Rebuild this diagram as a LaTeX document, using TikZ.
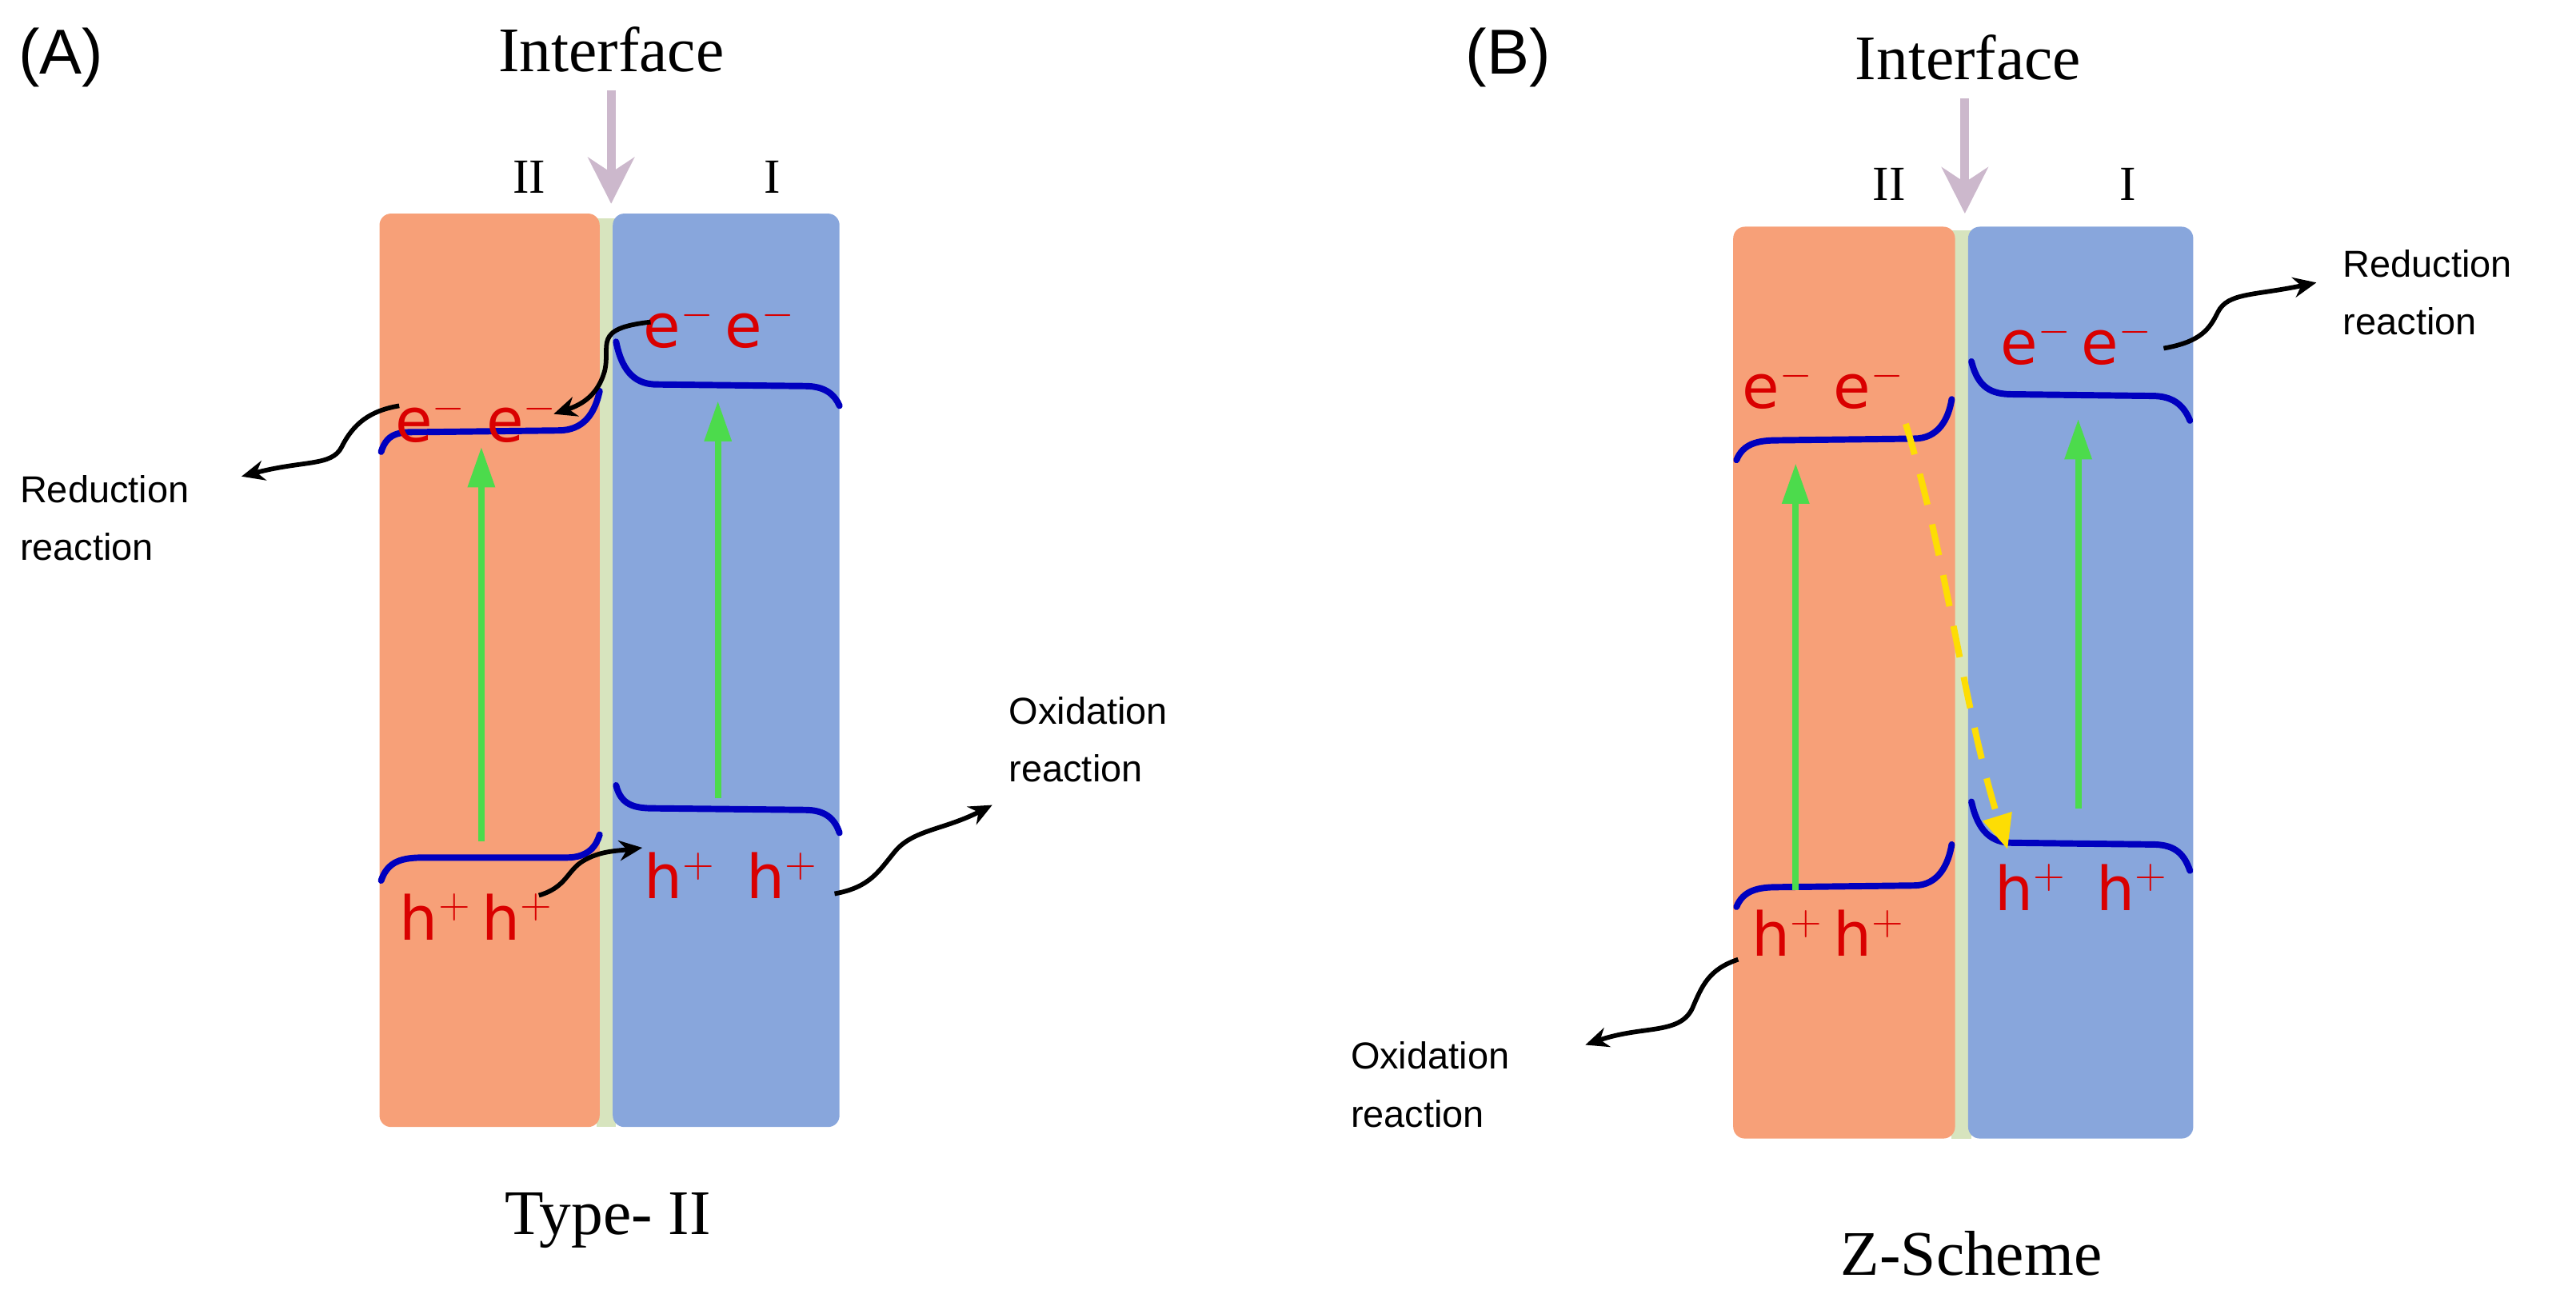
\documentclass[tikz,border=0pt]{standalone}
\usepackage{fontspec}
\setmainfont{Liberation Serif}
\newfontfamily\sansf{Liberation Sans}
\newfontfamily\chg{DejaVu Sans}
\usetikzlibrary{arrows.meta}
\begin{document}
\begin{tikzpicture}[x=0.02cm,y=-0.02cm,
  orange box/.style={fill=orange!55!red!45!white, draw=none, rounded corners=4pt},
  blue box/.style={fill=blue!45!cyan!40!gray!60, draw=none, rounded corners=4pt},
  strip/.style={fill=green!20!yellow!20!white,draw=none},
  band/.style={draw=blue!75!black, line width=2.2pt, line cap=round},
  chg/.style={text=red!85!black, font=\chg\fontsize{21}{24}\selectfont},
  ser/.style={font=\fontsize{22}{26}\selectfont},
  lab/.style={font=\sansf\fontsize{13}{20}\selectfont, align=left},
  gr/.style={draw=green!80!black!70!white, line width=2.2pt, -{Triangle[length=14pt,width=9pt]}},
  iarr/.style={draw=gray!60!violet!40, line width=3pt, -{Stealth[length=16pt,width=16pt]}},
  blk/.style={draw=black, line width=1.6pt, -{Stealth[length=8pt,width=7pt]}}]
\fill[white] (0,0) rectangle (1568,785);
\useasboundingbox (0,0) rectangle (1568,785);
\definecolor{org}{RGB}{247,160,120}
\definecolor{blu}{RGB}{136,166,220}
\definecolor{stp}{RGB}{215,228,190}
% ---------- Panel A ----------
\node[font=\sansf\fontsize{22}{26}\selectfont, anchor=west] (labA) at (5,35) {(A)};
\node[ser] (intA) at (372,30) {Interface};
\coordinate (ia1) at (372,55); \coordinate (ia2) at (372,124);
\draw[iarr] (ia1) -- (ia2);
\node[ser,font=\fontsize{17}{20}\selectfont] (IIa) at (322,108) {II};
\node[ser,font=\fontsize{17}{20}\selectfont] (Ia) at (470,108) {I};
\fill[stp] (363,133) rectangle (375,686);
\fill[org,rounded corners=4pt] (231,130) rectangle (365,686);
\fill[blu,rounded corners=4pt] (373,130) rectangle (511,686);
\draw[band] (232,275) .. controls (236,262) and (245,263) .. (258,263) -- (340,262) .. controls (355,262) and (362,252) .. (365,238);
\draw[band] (375,208) .. controls (379,228) and (388,234) .. (400,234) -- (490,235) .. controls (502,235) and (508,240) .. (511,247);
\draw[band] (232,536) .. controls (236,524) and (245,522) .. (258,522) -- (345,522) .. controls (358,522) and (363,515) .. (365,508);
\draw[band] (375,478) .. controls (378,490) and (386,492) .. (398,492) -- (490,493) .. controls (502,493) and (508,498) .. (511,507);
\node[chg] (eA1) at (290,255) {e$^{-}$\,\,e$^{-}$};
\node[chg] (eA2) at (438,198) {e$^{-}$\,e$^{-}$};
\node[chg] (hA1) at (290,558) {h$^{+}$\,h$^{+}$};
\node[chg] (hA2) at (445,533) {h$^{+}$\,\,\,h$^{+}$};
\coordinate (gA1s) at (293,512); \coordinate (gA1e) at (293,272);
\coordinate (gA2s) at (437,486); \coordinate (gA2e) at (437,244);
\draw[gr] (gA1s) -- (gA1e);
\draw[gr] (gA2s) -- (gA2e);
\coordinate (bA1s) at (396,196); \coordinate (bA1e) at (337,252);
\draw[blk] (bA1s) .. controls (360,200) and (372,210) .. (368,226) .. controls (364,240) and (355,246) .. (bA1e);
\coordinate (bA2s) at (243,247); \coordinate (bA2e) at (147,290);
\draw[blk] (bA2s) .. controls (225,250) and (215,258) .. (208,272) .. controls (202,284) and (185,280) .. (bA2e);
\node[lab, anchor=north west] (redA) at (6,283) {Reduction\\reaction};
\coordinate (bA3s) at (328,545); \coordinate (bA3e) at (391,516);
\draw[blk] (bA3s) .. controls (345,540) and (345,530) .. (355,524) .. controls (365,518) and (375,518) .. (bA3e);
\coordinate (bA4s) at (508,544); \coordinate (bA4e) at (604,490);
\draw[blk] (bA4s) .. controls (530,540) and (535,530) .. (545,518) .. controls (556,505) and (575,505) .. (bA4e);
\node[lab, anchor=north west] (oxA) at (608,418) {Oxidation\\reaction};
\node[ser] (typeA) at (370,743) {Type- II};
% ---------- Panel B ----------
\node[font=\sansf\fontsize{22}{26}\selectfont, anchor=west] (labB) at (886,35) {(B)};
\node[ser] (intB) at (1198,35) {Interface};
\coordinate (ib1) at (1196,60); \coordinate (ib2) at (1196,130);
\draw[iarr] (ib1) -- (ib2);
\node[ser,font=\fontsize{17}{20}\selectfont] (IIb) at (1150,112) {II};
\node[ser,font=\fontsize{17}{20}\selectfont] (Ib) at (1295,112) {I};
\fill[stp] (1188,140) rectangle (1200,693);
\fill[org,rounded corners=4pt] (1055,138) rectangle (1190,693);
\fill[blu,rounded corners=4pt] (1198,138) rectangle (1335,693);
\draw[band] (1057,280) .. controls (1061,270) and (1070,268) .. (1082,268) -- (1165,267) .. controls (1180,267) and (1186,255) .. (1188,243);
\draw[band] (1200,220) .. controls (1204,236) and (1212,240) .. (1225,240) -- (1310,241) .. controls (1322,241) and (1329,246) .. (1333,256);
\draw[band] (1057,552) .. controls (1061,542) and (1070,540) .. (1082,540) -- (1165,539) .. controls (1180,539) and (1186,526) .. (1188,514);
\draw[band] (1200,488) .. controls (1204,506) and (1212,513) .. (1225,513) -- (1310,514) .. controls (1322,514) and (1329,518) .. (1333,530);
\node[chg] (eB1) at (1110,235) {e$^{-}$\,\,e$^{-}$};
\node[chg] (eB2) at (1264,208) {e$^{-}$\,e$^{-}$};
\node[chg] (hB1) at (1113,568) {h$^{+}$\,h$^{+}$};
\node[chg] (hB2) at (1267,540) {h$^{+}$\,\,\,h$^{+}$};
\coordinate (gB1s) at (1093,542); \coordinate (gB1e) at (1093,282);
\coordinate (gB2s) at (1265,492); \coordinate (gB2e) at (1265,255);
\draw[gr] (gB1s) -- (gB1e);
\draw[gr] (gB2s) -- (gB2e);
\coordinate (yBs) at (1160,258); \coordinate (yBe) at (1222,517);
\draw[draw=yellow!80!orange, line width=2.2pt, dash pattern=on 11pt off 7pt, -{Triangle[length=12pt,width=10pt]}] (yBs) .. controls (1185,340) and (1195,430) .. (yBe);
\coordinate (bB1s) at (1317,212); \coordinate (bB1e) at (1410,172);
\draw[blk] (bB1s) .. controls (1340,208) and (1345,200) .. (1350,190) .. controls (1356,178) and (1372,180) .. (bB1e);
\node[lab, anchor=north west] (redB) at (1420,146) {Reduction\\reaction};
\coordinate (bB2s) at (1058,584); \coordinate (bB2e) at (965,636);
\draw[blk] (bB2s) .. controls (1040,590) and (1036,600) .. (1030,614) .. controls (1022,630) and (1000,624) .. (bB2e);
\node[lab, anchor=north west] (oxB) at (816,628) {Oxidation\\reaction};
\node[ser] (typeB) at (1200,763) {Z-Scheme};
\end{tikzpicture}
\end{document}
